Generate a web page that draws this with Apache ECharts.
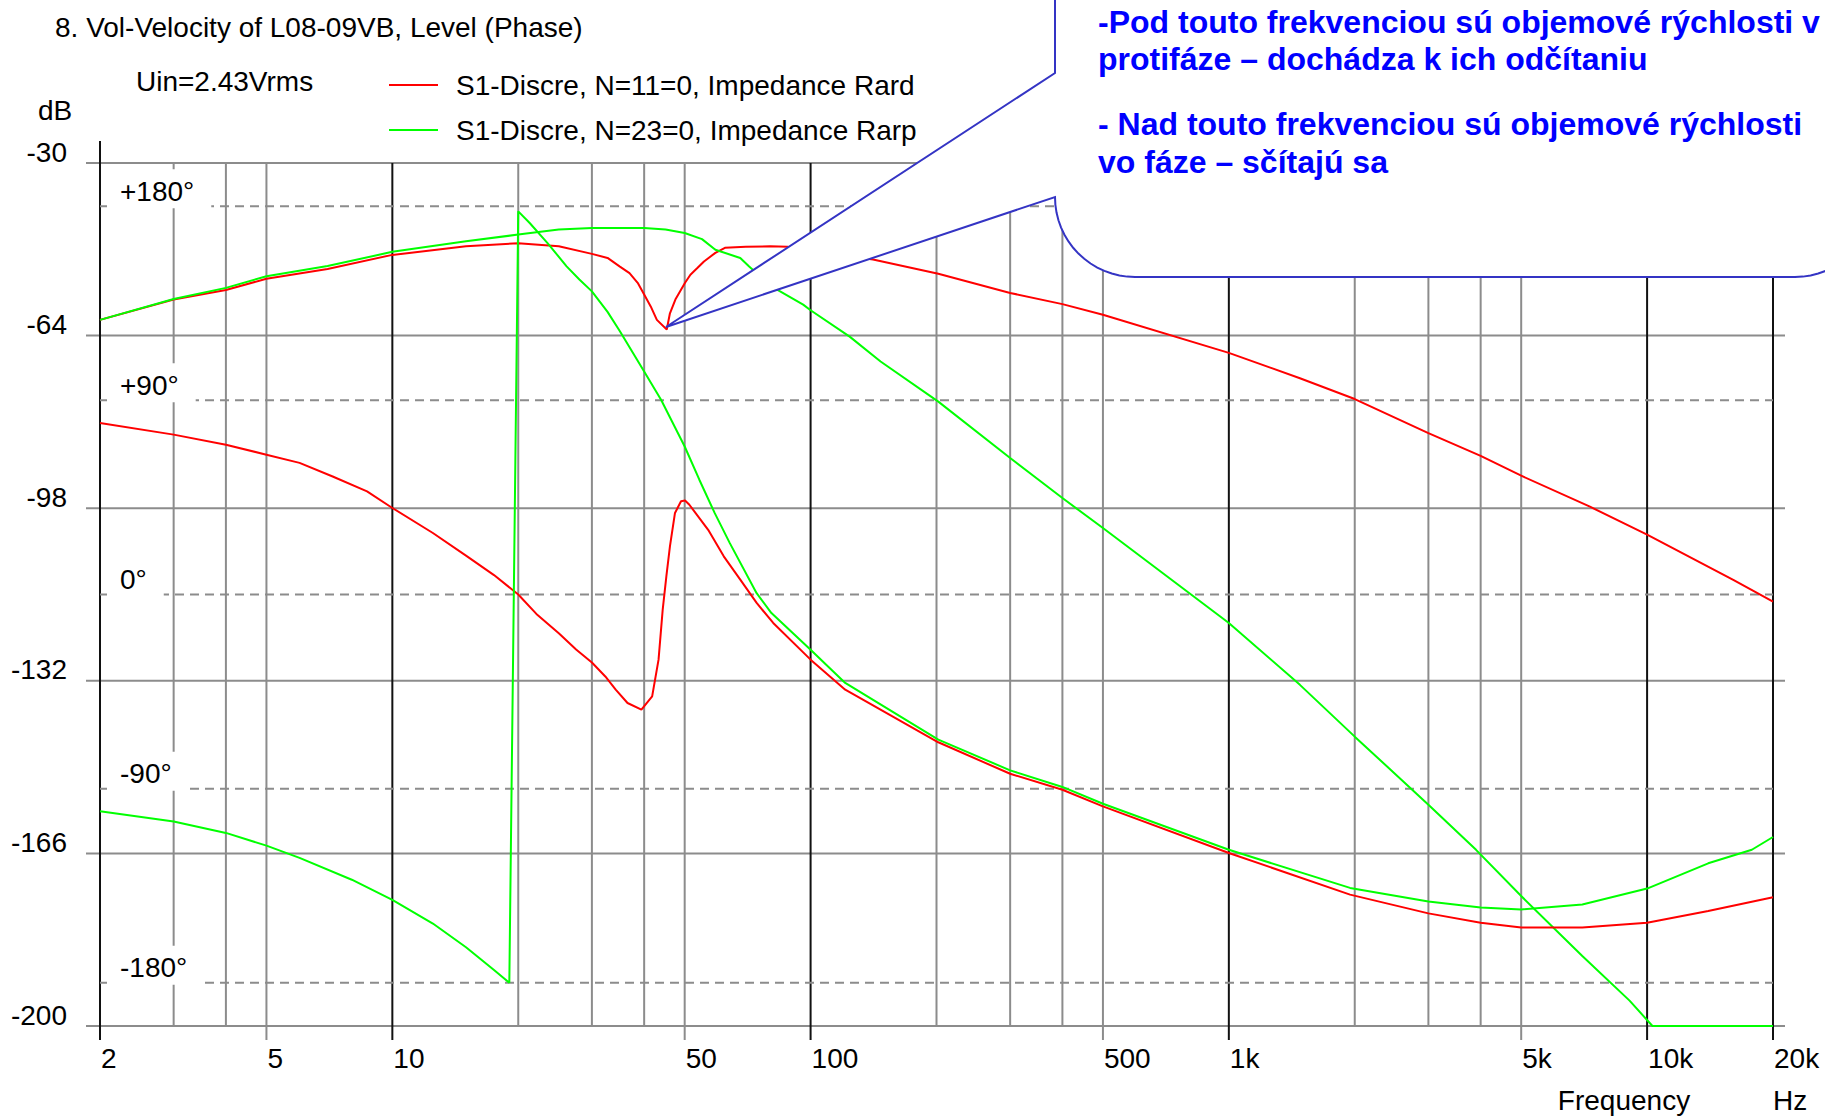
<!DOCTYPE html>
<html>
<head>
<meta charset="utf-8">
<script src="https://cdn.jsdelivr.net/npm/echarts@6/dist/echarts.min.js"></script>
<style>
html,body{margin:0;padding:0;background:#fff;}
#chart{width:1825px;height:1119px;}
</style>
</head>
<body>
<div id="chart"></div>
<script>
// ---------------- data ----------------
const chartTitle = '8. Vol-Velocity of L08-09VB, Level (Phase)';
const noteText = 'Uin=2.43Vrms';
const unitLabel = 'dB';
const seriesNames = ['S1-Discre, N=11=0, Impedance Rard', 'S1-Discre, N=23=0, Impedance Rarp'];
const phaseSeriesNames = ['Phase Rard', 'Phase Rarp'];

const dbTicks = [-200, -166, -132, -98, -64, -30];
const phaseTicks = [-180, -90, 0, 90, 180];
const phaseTickLabels = ['-180°', '-90°', '0°', '+90°', '+180°'];
const freqGrid = [2, 3, 4, 5, 10, 20, 30, 40, 50, 100, 200, 300, 400, 500, 1000, 2000, 3000, 4000, 5000, 10000, 20000];
const freqLabelTicks = [2, 5, 10, 50, 100, 500, 1000, 5000, 10000, 20000];
const freqLabels = ['2', '5', '10', '50', '100', '500', '1k', '5k', '10k', '20k'];
const darkGridFreqs = [2, 10, 100, 1000, 10000, 20000];
const xAxisName = 'Frequency';
const xAxisUnit = 'Hz';

const calloutLines = [
  '-Pod touto frekvenciou sú objemové rýchlosti v',
  'protifáze – dochádza k ich odčítaniu',
  '- Nad touto frekvenciou sú objemové rýchlosti',
  'vo fáze – sčítajú sa'
];

// Level, red (dB)
const redLevelFreq = [2,3,4,5,7,10,15,20,25,30,32.7,35,36.9,38.6,40,41.5,42.9,45.3,46.1,47.5,50.1,51.6,53.6,55.6,59.2,62.4,70,80,88,100,120,141,202,300,400,500,1000,1479,2000,3000,4000,5000,7300,10000,16070,20000];
const redLevelDb = [-60.9,-56.9,-55.0,-52.8,-50.9,-48.1,-46.4,-45.8,-46.4,-47.9,-48.7,-50.4,-51.7,-53.6,-55.9,-58.3,-60.9,-62.8,-59.6,-56.9,-53.6,-52.0,-50.7,-49.4,-47.7,-46.7,-46.5,-46.4,-46.5,-47.3,-48.2,-49.0,-51.8,-55.6,-57.8,-59.9,-67.4,-72.4,-76.5,-83.2,-87.7,-91.6,-97.7,-103.2,-112.1,-116.4];

// Level, green (dB)
const greenLevelFreq = [2,3,4,5,7,10,15,20,25,30,40,45,50,55,59.2,67.9,71.3,80.6,96,100,124,147,202,300,400,500,1000,1479,2000,3000,3900,5000,7000,9080,10300,20000];
const greenLevelDb = [-60.9,-56.8,-54.6,-52.3,-50.3,-47.5,-45.4,-44.1,-43.1,-42.8,-42.8,-43.1,-43.8,-45.0,-47.1,-48.7,-50.4,-54.3,-57.9,-59.0,-64.2,-69.1,-77.0,-88.1,-96.0,-101.9,-120.6,-132.8,-143.0,-156.4,-165.3,-174.4,-186.2,-195.0,-200,-200];

// Phase, red (degrees)
const redPhaseFreq = [2,3,4,5,6,7.2,8.7,10,12.5,15,17.5,20,22.1,25,27.5,30,32.3,34.2,36.5,39.4,41.8,43.3,44.3,45.2,46.1,47.4,49.0,50.1,51.3,56.9,62.0,67.9,74.3,81.4,100,121,202,300,400,500,1000,1949,3000,4000,5000,7000,10000,14000,20000];
const redPhaseDeg = [79.5,74.1,69.4,64.8,61.0,54.7,47.8,40.1,28.5,18.0,9.0,0,-9.0,-18.0,-25.5,-31.5,-38.0,-44.1,-50.3,-53.4,-47.2,-30.2,-7.0,8.4,22.3,37.8,43.2,43.6,41.6,30.0,17.7,6.9,-3.9,-13.2,-30.2,-44.1,-68.5,-83.1,-90.5,-98.2,-119.8,-139.1,-147.8,-152.1,-154.3,-154.3,-152.1,-146.7,-140.3];

// Phase, green (degrees)
const greenPhaseFreq = [2,3,4,5,6,8,10,12.5,15,17.5,19.04,20.0,21.3,23.5,26.1,28,30,32.7,35,40,43.9,50,54.2,59,64.1,74.3,80.6,100,121,202,300,400,500,1000,1949,3000,4000,5000,7000,10000,14000,17800,20000];
const greenPhaseDeg = [-100.5,-105.2,-110.5,-116.4,-122.1,-132.2,-141.5,-152.5,-163.5,-174.0,-180,177.6,172.2,162.9,152.1,146,140.5,131,122,103.4,90.3,68.6,53.2,37.7,23.8,0.6,-8.6,-25.6,-41.0,-67.3,-81.5,-89.2,-97.0,-118.3,-136.0,-142.3,-145.1,-146.0,-143.7,-136.3,-124.6,-118.3,-112.4];

// ---------------- helpers ----------------
const FONT = '"Liberation Sans", Arial, Helvetica, sans-serif';
const F_MIN = 2, F_MAX = 20000, DB_MIN = -200, DB_MAX = -30;
const GRID_GRAY = '#8c8c8c';
const GRID_DARK = '#111111';
const pairs = (xs, ys) => xs.map((x, i) => [x, ys[i]]);

const measureCtx = document.createElement('canvas').getContext('2d');
function textWidth(t, font) { measureCtx.font = font; return measureCtx.measureText(t).width; }

// ---------------- render items ----------------
function renderHGrid(params, api) {
  const v = api.value(1);
  const a = api.coord([F_MIN, v]);
  const b = api.coord([F_MAX, v]);
  return {
    type: 'group',
    children: [
      { type: 'line', shape: { x1: a[0] - 14, y1: a[1], x2: b[0] + 12, y2: b[1] },
        style: { stroke: GRID_GRAY, lineWidth: 2 } },
      { type: 'text', style: { text: String(v), x: a[0] - 33, y: a[1] - 11,
        align: 'right', verticalAlign: 'middle', textAlign: 'right', textVerticalAlign: 'middle',
        font: '28px ' + FONT, fill: '#000' } }
    ]
  };
}

function renderVGrid(params, api) {
  const f = api.value(0);
  const top = api.coord([f, DB_MAX]);
  const bot = api.coord([f, DB_MIN]);
  const dark = darkGridFreqs.indexOf(f) >= 0;
  const li = freqLabelTicks.indexOf(f);
  const y1 = f === F_MIN ? top[1] - 22 : top[1];
  const y2 = li >= 0 ? bot[1] + 14 : bot[1];
  const children = [
    { type: 'line', shape: { x1: top[0], y1: y1, x2: bot[0], y2: y2 },
      style: { stroke: dark ? GRID_DARK : GRID_GRAY, lineWidth: 2 } }
  ];
  if (li >= 0) {
    children.push({ type: 'text', style: { text: freqLabels[li], x: top[0] + 1, y: bot[1] + 32,
      align: 'left', verticalAlign: 'middle', textAlign: 'left', textVerticalAlign: 'middle',
      font: '28px ' + FONT, fill: '#000' } });
  }
  return { type: 'group', children: children };
}

function renderPhaseGrid(params, api) {
  const v = api.value(1);
  const a = api.coord([F_MIN, v]);
  const b = api.coord([F_MAX, v]);
  const label = phaseTickLabels[params.dataIndex];
  const font = '28px ' + FONT;
  const w = textWidth(label, font);
  return {
    type: 'group',
    children: [
      { type: 'line', shape: { x1: a[0], y1: a[1], x2: b[0], y2: b[1] },
        style: { stroke: GRID_GRAY, lineWidth: 2, lineDash: [9, 6] } },
      { type: 'rect', shape: { x: a[0] + 7, y: a[1] - 37, width: w + 30, height: 39 },
        style: { fill: '#ffffff' } },
      { type: 'text', style: { text: label, x: a[0] + 20, y: a[1] - 15,
        align: 'left', verticalAlign: 'middle', textAlign: 'left', textVerticalAlign: 'middle',
        font: font, fill: '#000' } }
    ]
  };
}

// ---------------- callout shape ----------------
function calloutPoints() {
  const pts = [[1055, -10], [1055, 73], [666, 327], [1055, 197]];
  const r = 80, n = 16;
  for (let i = 1; i <= n; i++) {
    const t = Math.PI - (Math.PI / 2) * i / n;
    pts.push([1135 + r * Math.cos(t), 197 + r * Math.sin(t)]);
  }
  pts.push([1795, 277]);
  for (let i = 1; i <= n; i++) {
    const t = Math.PI / 2 - (Math.PI / 2) * i / n;
    pts.push([1795 + r * Math.cos(t), 197 + r * Math.sin(t)]);
  }
  pts.push([1875, -10]);
  return pts;
}

const calloutBaselines = [22, 59, 124, 162];

const chart = echarts.init(document.getElementById('chart'), null, { renderer: 'svg' });

const lineSeries = (name, data, color, yIdx) => ({
  type: 'line', name: name, data: data, xAxisIndex: 0, yAxisIndex: yIdx,
  showSymbol: false, symbol: 'none', smooth: false, clip: true,
  lineStyle: { color: color, width: 2 }, itemStyle: { color: color },
  z: 5, animation: false, silent: true
});

const option = {
  backgroundColor: '#ffffff',
  animation: false,
  grid: { left: 100, right: 52, top: 163, bottom: 93, containLabel: false },
  xAxis: { type: 'log', logBase: 10, min: F_MIN, max: F_MAX, show: false },
  yAxis: [
    { type: 'value', min: DB_MIN, max: DB_MAX, show: false },
    { type: 'value', min: -200, max: 200, show: false }
  ],
  legend: {
    data: seriesNames, orient: 'vertical', left: 384, top: 66,
    itemWidth: 49, itemHeight: 2, icon: 'rect', itemGap: 17,
    textStyle: { fontSize: 28, fontFamily: FONT, color: '#000', lineHeight: 28, padding: [0, 0, 0, 13] },
    selectedMode: false
  },
  graphic: [
    { type: 'text', z: 50, style: { text: chartTitle, x: 55, y: 27, align: 'left', verticalAlign: 'middle',
      textAlign: 'left', textVerticalAlign: 'middle', font: '28px ' + FONT, fill: '#000' } },
    { type: 'text', z: 50, style: { text: noteText, x: 136, y: 81, align: 'left', verticalAlign: 'middle',
      textAlign: 'left', textVerticalAlign: 'middle', font: '28px ' + FONT, fill: '#000' } },
    { type: 'text', z: 50, style: { text: unitLabel, x: 55, y: 110, align: 'center', verticalAlign: 'middle',
      textAlign: 'center', textVerticalAlign: 'middle', font: '28px ' + FONT, fill: '#000' } },
    { type: 'text', z: 50, style: { text: xAxisName, x: 1624, y: 1100, align: 'center', verticalAlign: 'middle',
      textAlign: 'center', textVerticalAlign: 'middle', font: '28px ' + FONT, fill: '#000' } },
    { type: 'text', z: 50, style: { text: xAxisUnit, x: 1773, y: 1100, align: 'left', verticalAlign: 'middle',
      textAlign: 'left', textVerticalAlign: 'middle', font: '28px ' + FONT, fill: '#000' } },
    { type: 'polygon', z: 100, shape: { points: calloutPoints() },
      style: { fill: '#ffffff', stroke: '#3434c4', lineWidth: 2 } }
  ].concat(calloutLines.map((t, i) => ({
    type: 'text', z: 110,
    style: { text: t, x: 1098, y: calloutBaselines[i], align: 'left', verticalAlign: 'middle',
      textAlign: 'left', textVerticalAlign: 'middle', font: 'bold 32px ' + FONT, fill: '#0000ff' }
  }))),
  series: [
    { type: 'custom', name: 'hgrid', coordinateSystem: 'cartesian2d', xAxisIndex: 0, yAxisIndex: 0,
      data: dbTicks.map(v => [F_MIN, v]), renderItem: renderHGrid, z: 1, silent: true, clip: false },
    { type: 'custom', name: 'vgrid', coordinateSystem: 'cartesian2d', xAxisIndex: 0, yAxisIndex: 0,
      data: freqGrid.map(f => [f, DB_MIN]), renderItem: renderVGrid, z: 1, silent: true, clip: false },
    { type: 'custom', name: 'phasegrid', coordinateSystem: 'cartesian2d', xAxisIndex: 0, yAxisIndex: 1,
      data: phaseTicks.map(v => [F_MIN, v]), renderItem: renderPhaseGrid, z: 2, silent: true, clip: false },
    lineSeries(seriesNames[0], pairs(redLevelFreq, redLevelDb), '#ff0000', 0),
    lineSeries(seriesNames[1], pairs(greenLevelFreq, greenLevelDb), '#00ff00', 0),
    lineSeries(phaseSeriesNames[0], pairs(redPhaseFreq, redPhaseDeg), '#ff0000', 1),
    lineSeries(phaseSeriesNames[1], pairs(greenPhaseFreq, greenPhaseDeg), '#00ff00', 1)
  ]
};
chart.setOption(option);
</script>
</body>
</html>
